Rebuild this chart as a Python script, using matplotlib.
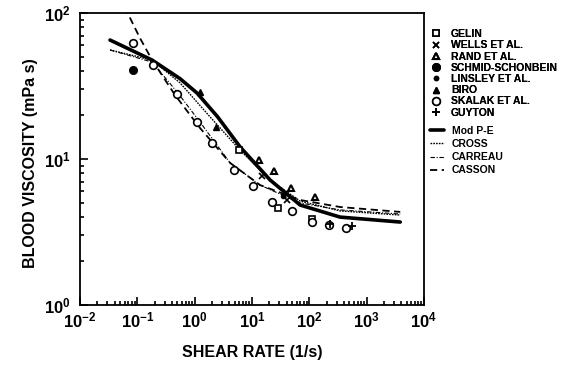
import matplotlib
matplotlib.use("Agg")
import matplotlib.pyplot as plt

plt.rcParams['font.family'] = ['Liberation Sans', 'DejaVu Sans']
plt.rcParams['mathtext.fontset'] = 'custom'
plt.rcParams['mathtext.bf'] = 'Liberation Sans:bold'
plt.rcParams['mathtext.rm'] = 'Liberation Sans:bold'

# ---- data ----
gelin_x = [5.96, 28.5, 110]
gelin_y = [11.5, 4.6, 3.9]
wells_x = [15.0, 40.0]
wells_y = [7.7, 5.2]
rand_x = [13.3, 24.3, 48.0, 126.0]
rand_y = [9.85, 8.3, 6.3, 5.5]
schmid_x = [0.084]
schmid_y = [41.0]
linsley_x = [35.0]
linsley_y = [5.6]
biro_x = [1.24, 2.36]
biro_y = [28.8, 16.6]
skalak_x = [0.083, 0.186, 0.49, 1.11, 1.99, 4.9, 10.6, 22.0, 49.0, 110.0, 222.0, 438.0]
skalak_y = [62.0, 44.0, 27.9, 18.0, 12.9, 8.4, 6.5, 5.1, 4.43, 3.72, 3.55, 3.37]
guyton_x = [231.0, 558.0]
guyton_y = [3.6, 3.5]

modpe_x = [0.0334, 0.181, 0.556, 1.10, 2.5, 6.2, 20.7, 69, 344, 3850]
modpe_y = [65.3, 47.6, 35.5, 28.3, 19.5, 12.1, 7.18, 4.84, 4.0, 3.70]
cross_x = [0.0334, 0.181, 0.556, 1.86, 6.2, 20.7, 69, 344, 3850]
cross_y = [55.8, 47.6, 33.2, 19.4, 11.5, 7.18, 5.15, 4.41, 4.13]
carreau_x = [0.0334, 0.181, 0.493, 1.24, 4.15, 13.8, 69, 344, 3850]
carreau_y = [55.8, 46.1, 28.8, 17.9, 9.4, 6.63, 5.0, 4.48, 4.20]
casson_x = [0.06, 0.111, 0.181, 0.455, 1.24, 4.15, 13.8, 69, 344, 3850]
casson_y = [110, 67.4, 47.6, 27.4, 16.3, 9.4, 6.63, 5.24, 4.69, 4.34]

xticks = [1e-2, 1e-1, 1e0, 1e1, 1e2, 1e3, 1e4]
xticklabels = [r'$\mathbf{10^{-2}}$', r'$\mathbf{10^{-1}}$', r'$\mathbf{10^{0}}$',
               r'$\mathbf{10^{1}}$', r'$\mathbf{10^{2}}$', r'$\mathbf{10^{3}}$',
               r'$\mathbf{10^{4}}$']
yticks = [1e0, 1e1, 1e2]
yticklabels = [r'$\mathbf{10^{0}}$', r'$\mathbf{10^{1}}$', r'$\mathbf{10^{2}}$']

marker_labels = ['GELIN', 'WELLS ET AL.', 'RAND ET AL.', 'SCHMID-SCHONBEIN',
                 'LINSLEY ET AL.', 'BIRO', 'SKALAK ET AL.', 'GUYTON']
line_labels = ['Mod P-E', 'CROSS', 'CARREAU', 'CASSON']

W, H = 565, 365
fig = plt.figure(figsize=(W / 100, H / 100), dpi=100)
ax = fig.add_axes([80 / W, 60 / H, 344 / W, 292 / H])
ax.set_xscale('log')
ax.set_yscale('log')
ax.set_xlim(1e-2, 1e4)
ax.set_ylim(1, 100)

k = 'black'
l_modpe, = ax.plot(modpe_x, modpe_y, color=k, lw=2.6, solid_capstyle='round')
l_cross, = ax.plot(cross_x, cross_y, color=k, lw=1.0, dashes=(1.2, 0.8))
l_carreau, = ax.plot(carreau_x, carreau_y, color=k, lw=0.8, dashes=(4, 1.5, 1, 1.5))
l_casson, = ax.plot(casson_x, casson_y, color=k, lw=1.3, dashes=(4, 2.5))

ms = 5
m_gelin, = ax.plot(gelin_x, gelin_y, ls='none', marker='s', mfc='white', mec=k, ms=ms, mew=1.2)
m_wells, = ax.plot(wells_x, wells_y, ls='none', marker='x', color=k, ms=4, mew=1.2)
m_rand, = ax.plot(rand_x, rand_y, ls='none', marker='^', mfc='white', mec=k, ms=ms, mew=1.5)
m_schmid, = ax.plot(schmid_x, schmid_y, ls='none', marker='o', color=k, ms=5.5)
m_linsley, = ax.plot(linsley_x, linsley_y, ls='none', marker='o', color=k, ms=3)
m_biro, = ax.plot(biro_x, biro_y, ls='none', marker='^', color=k, ms=ms)
m_skalak, = ax.plot(skalak_x, skalak_y, ls='none', marker='o', mfc='white', mec=k, ms=ms + 0.5, mew=1.2)
m_guyton, = ax.plot(guyton_x, guyton_y, ls='none', marker='+', color=k, ms=6, mew=1.3)

ax.set_xticks(xticks)
ax.set_xticklabels(xticklabels, fontsize=12)
ax.set_yticks(yticks)
ax.set_yticklabels(yticklabels, fontsize=12)
ax.tick_params(which='both', direction='in', top=False, right=False, width=1.2)
ax.tick_params(which='major', length=6)
ax.tick_params(which='minor', length=3)
ax.tick_params(axis='x', pad=4)
ax.tick_params(axis='y', pad=7)
for s in ax.spines.values():
    s.set_linewidth(1.3)

fig.text(252 / W, 1 - 352 / H, 'SHEAR RATE (1/s)', fontsize=11.5, fontweight='bold',
         ha='center', va='center')
fig.text(31 / W, 1 - 163 / H, 'BLOOD VISCOSITY (mPa s)', fontsize=11.5, fontweight='bold',
         ha='center', va='center', rotation=90)

lp = dict(frameon=False, prop={'weight': 'bold', 'size': 7.5},
          borderaxespad=0, borderpad=0)
leg1 = fig.legend([m_gelin, m_wells, m_rand, m_schmid, m_linsley, m_biro, m_skalak, m_guyton],
                  marker_labels, loc='upper left', bbox_to_anchor=(431 / W, 1 - 29 / H),
                  handlelength=1.0, handletextpad=0.9, labelspacing=0.12, **lp)
fig.add_artist(leg1)
leg2 = fig.legend([l_modpe, l_cross, l_carreau, l_casson], line_labels,
                  loc='upper left', bbox_to_anchor=(430 / W, 1 - 126 / H),
                  handlelength=1.3, handletextpad=0.8, labelspacing=0.3, **lp)

fig.savefig('out.png', dpi=100)
